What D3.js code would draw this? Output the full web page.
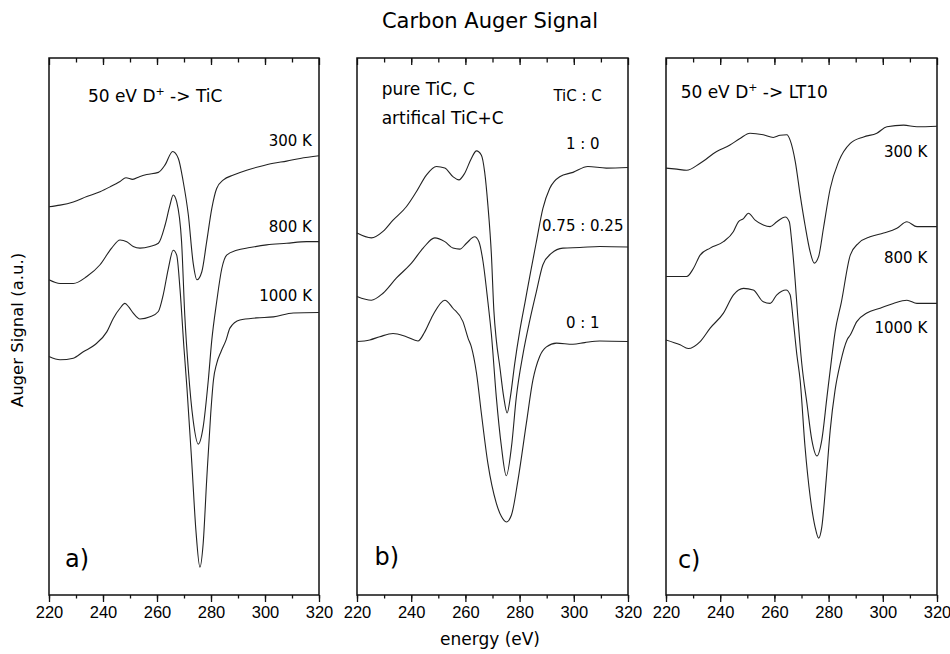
<!DOCTYPE html>
<html>
<head>
<meta charset="utf-8">
<script src="https://cdn.jsdelivr.net/npm/d3@7"></script>
<style>
body { margin: 0; background: #fff; }
svg text { font-family: "DejaVu Sans", sans-serif; fill: #000; }
.tick text { font-family: "Liberation Sans", Arial, sans-serif; }
</style>
</head>
<body>
<svg id="chart" width="950" height="654"></svg>
<script>
// energy (eV) vs Auger signal (a.u., offset curves)
const energyTicks = [220, 240, 260, 280, 300, 320];

// a) 50 eV D+ -> TiC
const a300 = [[220,72.3],[224.1,72.6],[229,73.2],[234,74.2],[238.9,75.1],[242.6,76.0],[246.3,77.0],[248.5,77.7],[251,77.4],[253.5,77.9],[256.2,78.3],[260.5,78.7],[263,80.1],[265.8,82.6],[267.9,81.3],[269.7,77.0],[271.6,70.8],[273.4,61.8],[274.8,58.7],[276.6,60.2],[278.4,65.8],[280.3,72.0],[282.1,75.7],[284.6,77.3],[288.3,78.2],[293.2,79.1],[298.1,79.8],[303.1,80.4],[308,80.8],[313,81.3],[320,81.8]];
const a800 = [[220,58.7],[224.1,58.0],[229,58.0],[234,59.3],[238.9,61.5],[243.2,64.6],[246.3,66.1],[248.8,65.8],[251.2,64.9],[253.7,64.6],[257.4,64.9],[260.5,65.5],[263,68.9],[264.8,72.6],[266,74.5],[267.3,73.2],[269.1,65.8],[270.3,52],[271.6,42],[273.4,32.5],[275.3,28.1],[277.1,31.3],[279,40.0],[280.3,47.5],[282.1,54.6],[284,60.8],[285.8,63.3],[289.5,64.2],[294.4,64.7],[300.6,65.2],[308,65.5],[315.4,65.8],[320,65.8]];
const a1000 = [[220,44.4],[224.1,43.8],[229,44.1],[232.7,45.3],[237,46.6],[241.4,49.0],[243.8,51.5],[246.3,53.4],[248.1,54.3],[249.6,53.6],[251.2,52.5],[253.7,51.4],[257.4,51.8],[260.5,52.8],[262.3,55.9],[264.2,60.8],[266,64.2],[267.3,63.3],[268.5,57.1],[270,45.9],[271.1,38.5],[272.9,24.5],[274.4,12.1],[275.9,5.2],[277.1,9.6],[278.4,21.4],[279.9,33.8],[280.9,40.0],[282.1,43.1],[283.7,45.3],[285.6,47.5],[287,49.7],[290.7,51.2],[296.9,51.6],[303.1,51.8],[310.5,52.5],[320,52.6]];

// b) pure TiC, C and artificial mixtures (TiC : C)
const b10 = [[220,67.4],[225.3,66.5],[229.6,67.7],[233.3,69.8],[238.2,72.3],[241.9,75.1],[245.6,78.2],[249.3,79.8],[252.4,79.5],[255.4,77.9],[257.6,77.3],[259.7,78.5],[262.2,81.3],[264.1,82.7],[265.9,81.9],[267.1,78.8],[268.3,72.6],[269.6,63.3],[270.5,53],[271.4,47.5],[272.7,42.5],[274.1,37],[275.4,33.9],[276.6,36.9],[278.2,43.1],[280,49],[282,54.5],[284,60],[286.2,65.8],[288.6,72.0],[291.1,75.7],[294.8,77.9],[299.7,78.7],[305.2,79.8],[312,79.5],[320,79.6]];
const b75 = [[220,55.6],[225.3,54.9],[229.6,56.2],[234.5,59.0],[240.1,61.8],[244.4,64.6],[248.7,66.5],[252.4,65.8],[255.4,64.6],[257.9,64.4],[260.4,65.5],[263.4,66.7],[265,65.8],[266.5,62.1],[268.3,54.6],[269.6,48.5],[271.4,36.9],[273.3,27.6],[275.1,22.2],[277,27.6],[278.8,36.9],[281.3,45],[283.7,51],[286.2,56.5],[288.6,61.5],[291.7,63.6],[296,64.6],[302.2,64.7],[309.6,64.9],[320,64.8]];
const b01 = [[220,47.2],[224.7,47.5],[228.4,48.1],[233.3,48.7],[238.2,48.1],[242.5,47.3],[245,49.0],[248,52.1],[252.4,54.9],[255.4,53.4],[259.1,50.9],[261,47.8],[262.2,46.2],[264.1,41.3],[265.9,33.8],[268.3,24.5],[271.4,17.1],[273.3,14.6],[275.1,13.6],[277,14.9],[279.4,21.4],[282.5,32.0],[284.9,40.0],[287.4,44.4],[289.9,46.2],[293.6,46.9],[299.7,46.7],[304,47.0],[309.6,47.3],[320,47.2]];

// c) 50 eV D+ -> LT10
const c300 = [[220,79.5],[224,79.3],[227.6,79.1],[232.6,80.4],[238.7,82.6],[243.6,83.8],[247.3,85.0],[251,86.0],[255.9,85.7],[259.6,85.2],[262.1,85.6],[264.6,85.7],[265.8,84.7],[267.7,80.7],[269.5,74.5],[271.3,68.9],[273.2,63.9],[274.7,61.8],[276.3,63.0],[278.1,68.3],[280.6,75.7],[283.7,80.7],[288,84.1],[292.9,85.3],[297.8,86.0],[301.5,87.2],[307.7,87.5],[312.6,87.2],[320,87.3]];
const c800 = [[220,59.3],[227.6,59.3],[230.1,60.8],[232.6,63.3],[236.3,64.6],[241.2,65.8],[244.9,67.7],[246.7,69.5],[248.6,70.1],[250.4,71.1],[252.9,69.8],[255.9,68.9],[258.4,68.6],[260.9,69.5],[264,70.4],[265.5,69.5],[266.4,65.8],[267.7,58.3],[268.6,52],[270.1,43.1],[272,35.7],[273.8,28.9],[275.7,25.9],[277.5,28.9],[279.4,36.9],[281.2,44.4],[282.4,49],[284.7,54.5],[288,63.3],[291,65.5],[295.3,66.7],[300.3,67.4],[305.2,68.3],[308.9,69.5],[312.6,68.6],[320,68.6]];
const c1000 = [[220,47.5],[225.2,46.6],[228.2,45.9],[232.6,47.2],[236.3,49.7],[241.2,52.5],[244.9,55.9],[248.6,57.1],[252.2,56.8],[255.9,54.6],[258.4,54.3],[260.9,55.9],[264.3,56.8],[265.8,55.9],[267,50.9],[268.3,44.7],[269.5,40.0],[271.3,27.6],[273.2,18.3],[275,12.7],[276.3,10.6],[277.5,12.7],[279.1,21.4],[280.6,30.7],[282.4,38.2],[284.3,43.1],[286.8,47.5],[288,48.4],[290.4,50.9],[294.1,52.5],[299,53.4],[303.9,54.3],[308.9,54.9],[312.6,54.3],[320,54.3]];

// curve labels: [text, energy, signal]
const aLabels = [["300 K", 317.4, 83.6], ["800 K", 317.4, 67.6], ["1000 K", 317.4, 54.7]];
const bLabels = [["TiC : C", 301.4, 91.9], ["1 : 0", 303.3, 83.1], ["0.75 : 0.25", 303.3, 67.7], ["0 : 1", 303.3, 49.7]];
const cLabels = [["300 K", 316.4, 81.6], ["800 K", 316.4, 61.8], ["1000 K", 316.4, 48.7]];

const svg = d3.select("#chart");
const plotTop = 58, plotBottom = 595;

const panels = [
    {x0: 49, x1: 319, series: [a300, a800, a1000], labels: aLabels, anchor: "end", letter: "a)", letterAt: [225.9, 5.2],
     title: [{t: "50 eV D", sup: "+", rest: " -> TiC", e: 234.4, v: 91.8}]},
    {x0: 357, x1: 628, series: [b10, b75, b01], labels: bLabels, anchor: "middle", letter: "b)", letterAt: [226.5, 5.6],
     title: [{t: "pure TiC, C", e: 229.1, v: 93.1}, {t: "artifical TiC+C", e: 229.1, v: 87.7}]},
    {x0: 666, x1: 937, series: [c300, c800, c1000], labels: cLabels, anchor: "end", letter: "c)", letterAt: [224.4, 5.0],
     title: [{t: "50 eV D", sup: "+", rest: " -> LT10", e: 225.4, v: 92.5}]}
];

const y = d3.scaleLinear().domain([0, 100]).range([plotBottom, plotTop]);

panels.forEach(p => {
    const x = d3.scaleLinear().domain([220, 320]).range([p.x0, p.x1]);
    const g = svg.append("g");

    // minor ticks every 10 eV
    g.append("g")
        .attr("transform", "translate(0," + plotBottom + ")")
        .call(d3.axisBottom(x).tickValues(d3.range(220, 321, 10)).tickSize(3.5).tickFormat(""))
        .call(s => s.select(".domain").remove());
    g.append("g")
        .attr("transform", "translate(0," + plotBottom + ")")
        .call(d3.axisBottom(x).tickValues(energyTicks).tickSize(7).tickPadding(4))
        .call(s => s.select(".domain").remove())
        .selectAll("text").attr("font-size", "16.5px").attr("fill", "#000");
    g.append("g")
        .attr("transform", "translate(0," + plotTop + ")")
        .call(d3.axisTop(x).tickValues(d3.range(230, 320, 10)).tickSize(-4.5).tickFormat(""))
        .call(s => s.select(".domain").remove());
    g.append("g")
        .attr("transform", "translate(0," + plotTop + ")")
        .call(d3.axisTop(x).tickValues(energyTicks).tickSize(-7).tickFormat(""))
        .call(s => s.select(".domain").remove());
    g.selectAll(".tick line").attr("stroke", "#111").attr("stroke-width", 1.3);

    g.append("rect")
        .attr("x", p.x0).attr("y", plotTop)
        .attr("width", p.x1 - p.x0).attr("height", plotBottom - plotTop)
        .attr("fill", "none").attr("stroke", "#111").attr("stroke-width", 1.5);

    const line = d3.line()
        .x(d => x(d[0]))
        .y(d => y(d[1]))
        .curve(d3.curveMonotoneX);

    g.selectAll("path.curve")
        .data(p.series)
        .enter()
        .append("path")
        .attr("class", "curve")
        .attr("d", line)
        .attr("fill", "none")
        .attr("stroke", "#222")
        .attr("stroke-width", 1.1);

    g.selectAll("text.lbl")
        .data(p.labels)
        .enter()
        .append("text")
        .attr("class", "lbl")
        .attr("x", d => x(d[1]))
        .attr("y", d => y(d[2]))
        .attr("text-anchor", p.anchor)
        .attr("font-size", "15px")
        .text(d => d[0]);

    p.title.forEach(t => {
        const txt = g.append("text")
            .attr("x", x(t.e))
            .attr("y", y(t.v))
            .attr("font-size", "17px");
        txt.append("tspan").text(t.t);
        if (t.sup) {
            txt.append("tspan").attr("dy", -7).attr("font-size", "11px").text(t.sup);
            txt.append("tspan").attr("dy", 7).text(t.rest);
        }
    });

    g.append("text")
        .attr("x", x(p.letterAt[0]))
        .attr("y", y(p.letterAt[1]))
        .attr("font-size", "24px")
        .text(p.letter);
});

svg.append("text")
    .attr("x", 490).attr("y", 28)
    .attr("text-anchor", "middle")
    .attr("font-size", "21px")
    .text("Carbon Auger Signal");

svg.append("text")
    .attr("x", 490).attr("y", 645)
    .attr("text-anchor", "middle")
    .attr("font-size", "17px")
    .text("energy (eV)");

svg.append("text")
    .attr("transform", "translate(23,330) rotate(-90)")
    .attr("text-anchor", "middle")
    .attr("font-size", "16.5px")
    .text("Auger Signal (a.u.)");
</script>
</body>
</html>
